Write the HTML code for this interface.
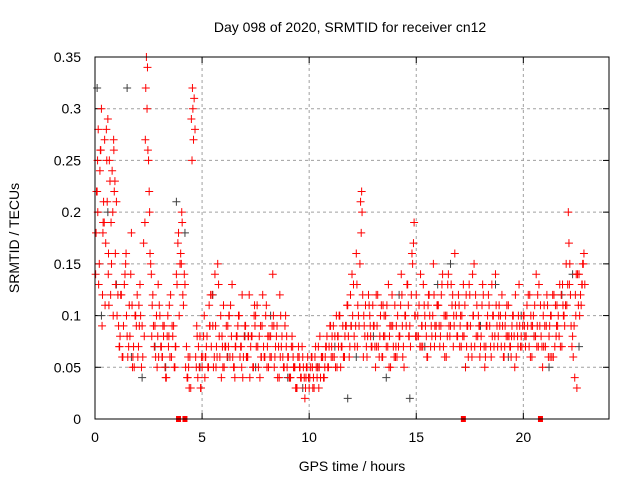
<!DOCTYPE html>
<html><head><meta charset="utf-8">
<style>
body{margin:0;background:#fff;}
svg{display:block;font-family:"Liberation Sans",sans-serif;}
</style></head>
<body>
<svg id="chart" width="640" height="480" viewBox="0 0 640 480" xmlns="http://www.w3.org/2000/svg">
<rect x="0" y="0" width="640" height="480" fill="#fff"/>
<text x="350" y="32" font-size="14" text-anchor="middle">Day 098 of 2020, SRMTID for receiver cn12</text>
<text transform="translate(19,238) rotate(-90)" font-size="14" text-anchor="middle">SRMTID / TECUs</text>
<text x="352" y="471" font-size="14" text-anchor="middle">GPS time / hours</text>
<g id="grid"></g><g id="ticks"></g><g id="gray"></g><g id="red"></g>
<rect x="95" y="57" width="514" height="362" fill="none" stroke="#000" stroke-width="1"/>
</svg>
<script>
const xTicks=[0,5,10,15,20];
const yTicks=[0,0.05,0.1,0.15,0.2,0.25,0.3,0.35];
const yTickLabels=["0","0.05","0.1","0.15","0.2","0.25","0.3","0.35"];
const redT=[0.05,0.1,0.15,0.2,0.25,0.3,0.35,0.4,0.45,0.5,0.55,0.6,0.65,0.7,0.75,0.8,0.85,0.9,0.95,1.0,
1.1,1.2,1.3,1.4,1.5,1.6,1.7,1.8,1.9,2.0,2.1,2.2,2.3,2.35,2.4,2.45,2.5,2.55,2.6,2.7,
2.8,2.9,3.0,3.1,3.2,3.3,3.4,3.5,3.6,3.7,3.8,3.9,4.0,4.1,4.2,4.3,4.4,4.5,4.55,4.6,
4.7,4.8,4.9,5.0,5.1,5.2,5.3,5.4,5.5,5.6,5.7,5.8,5.9,6.0,6.1,6.2,6.3,6.4,6.5,6.6,
6.7,6.8,6.9,7.0,7.1,7.2,7.3,7.4,7.5,7.6,7.7,7.8,7.9,8.0,8.1,8.2,8.3,8.4,8.5,8.6,
8.7,8.8,8.9,9.0,9.1,9.2,9.3,9.4,9.5,9.6,9.7,9.8,9.9,10.0,10.1,10.2,10.3,10.4,10.5,10.6,
10.7,10.8,10.9,11.0,11.1,11.2,11.3,11.4,11.5,11.6,11.7,11.8,11.9,12.0,12.1,12.2,12.3,12.4,12.45,12.5,
12.6,12.7,12.8,12.9,13.0,13.1,13.2,13.3,13.4,13.5,13.6,13.7,13.8,13.9,14.0,14.1,14.2,14.3,14.4,14.5,
14.6,14.7,14.8,14.9,15.0,15.1,15.2,15.3,15.4,15.5,15.6,15.7,15.8,15.9,16.0,16.1,16.2,16.3,16.4,16.5,
16.6,16.7,16.8,16.9,17.0,17.1,17.2,17.3,17.4,17.5,17.6,17.7,17.8,17.9,18.0,18.1,18.2,18.3,18.4,18.5,
18.6,18.7,18.8,18.9,19.0,19.1,19.2,19.3,19.4,19.5,19.6,19.7,19.8,19.9,20.0,20.1,20.2,20.3,20.4,20.5,
20.6,20.7,20.8,20.9,21.0,21.1,21.2,21.3,21.4,21.5,21.6,21.7,21.8,21.9,22.0,22.1,22.2,22.3,22.4,22.5,
22.6,22.7,22.8,
0.12,0.38,0.62,0.88,1.15,1.45,1.75,2.05,2.65,2.95,3.15,3.45,3.75,4.05,4.35,4.75,4.95,5.15,5.35,5.65,
5.95,6.25,6.55,6.85,7.15,7.45,7.75,8.05,8.35,8.65,8.95,9.25,9.55,9.85,10.15,10.45,10.75,11.05,11.35,11.65,
11.95,12.25,12.55,12.85,13.15,13.45,13.75,14.05,14.35,14.65,14.95,15.25,15.55,15.85,16.15,16.45,16.75,17.05,17.35,17.65,
17.95,18.25,18.55,18.85,19.15,19.45,19.75,20.05,20.35,20.65,20.95,21.25,21.55,21.85,22.15,22.45,22.75];
const redV=[0.18,0.22,0.28,0.15,0.26,0.30,0.12,0.21,0.27,0.17,0.25,0.29,0.11,0.23,0.19,0.24,0.10,0.22,0.16,0.21,
0.09,0.12,0.06,0.14,0.08,0.11,0.18,0.07,0.10,0.06,0.13,0.09,0.08,0.27,0.35,0.34,0.25,0.20,0.15,0.12,
0.09,0.05,0.11,0.07,0.08,0.04,0.10,0.06,0.09,0.05,0.14,0.18,0.16,0.12,0.13,0.04,0.03,0.29,0.32,0.27,
0.06,0.04,0.08,0.05,0.10,0.07,0.05,0.12,0.09,0.14,0.06,0.08,0.04,0.11,0.07,0.09,0.06,0.13,0.05,0.08,
0.10,0.07,0.04,0.09,0.06,0.12,0.08,0.05,0.10,0.07,0.04,0.09,0.06,0.11,0.05,0.08,0.14,0.06,0.09,0.04,
0.07,0.05,0.10,0.06,0.04,0.08,0.05,0.03,0.07,0.04,0.06,0.02,0.05,0.03,0.06,0.04,0.07,0.05,0.08,0.06,
0.04,0.07,0.05,0.09,0.06,0.08,0.05,0.10,0.07,0.06,0.09,0.11,0.07,0.14,0.08,0.16,0.10,0.21,0.22,0.12,
0.08,0.06,0.11,0.07,0.09,0.05,0.12,0.08,0.06,0.10,0.07,0.13,0.05,0.09,0.11,0.06,0.08,0.14,0.07,0.10,
0.13,0.09,0.16,0.19,0.12,0.08,0.14,0.07,0.10,0.06,0.12,0.09,0.15,0.08,0.11,0.07,0.13,0.10,0.06,0.14,
0.09,0.12,0.16,0.08,0.11,0.07,0.13,0.05,0.09,0.12,0.06,0.15,0.08,0.10,0.07,0.13,0.05,0.09,0.11,0.06,
0.10,0.14,0.07,0.09,0.12,0.06,0.08,0.11,0.07,0.10,0.05,0.09,0.13,0.08,0.10,0.07,0.09,0.12,0.06,0.08,
0.14,0.07,0.11,0.05,0.09,0.12,0.08,0.10,0.06,0.11,0.09,0.13,0.07,0.10,0.15,0.20,0.12,0.08,0.04,0.03,
0.14,0.11,0.15,
0.25,0.19,0.14,0.26,0.07,0.16,0.05,0.11,0.08,0.13,0.06,0.08,0.07,0.20,0.06,0.09,0.03,0.06,0.09,0.05,
0.07,0.10,0.07,0.05,0.08,0.11,0.06,0.07,0.09,0.06,0.08,0.06,0.05,0.04,0.05,0.03,0.06,0.07,0.08,0.06,
0.09,0.07,0.10,0.09,0.07,0.11,0.08,0.07,0.09,0.08,0.10,0.09,0.11,0.07,0.09,0.08,0.10,0.09,0.07,0.10,
0.09,0.07,0.08,0.10,0.09,0.08,0.07,0.09,0.10,0.09,0.07,0.06,0.09,0.11,0.13,0.10,0.13];
const redT3=[0.03,0.13,0.23,0.33,0.43,0.53,0.63,0.73,0.83,0.93,1.03,1.13,1.23,1.33,1.43,1.53,1.63,1.73,1.83,1.93,
2.03,2.13,2.23,2.33,2.43,2.53,2.63,2.73,2.83,2.93,3.03,3.13,3.23,3.33,3.43,3.53,3.63,3.73,3.83,3.93,
4.03,4.13,4.23,4.33,4.43,4.53,4.63,4.73,4.83,4.93,5.03,5.13,5.23,5.33,5.43,5.53,5.63,5.73,5.83,5.93,
6.03,6.13,6.23,6.33,6.43,6.53,6.63,6.73,6.83,6.93,7.03,7.13,7.23,7.33,7.43,7.53,7.63,7.73,7.83,7.93,
8.03,8.13,8.23,8.33,8.43,8.53,8.63,8.73,8.83,8.93,9.03,9.13,9.23,9.33,9.43,9.53,9.63,9.73,9.83,9.93,
10.03,10.13,10.23,10.33,10.43,10.53,10.63,10.73,10.83,10.93,11.03,11.13,11.23,11.33,11.43,11.53,11.63,11.73,11.83,11.93,
12.03,12.13,12.23,12.33,12.43,12.53,12.63,12.73,12.83,12.93,13.03,13.13,13.23,13.33,13.43,13.53,13.63,13.73,13.83,13.93,
14.03,14.13,14.23,14.33,14.43,14.53,14.63,14.73,14.83,14.93,15.03,15.13,15.23,15.33,15.43,15.53,15.63,15.73,15.83,15.93,
16.03,16.13,16.23,16.33,16.43,16.53,16.63,16.73,16.83,16.93,17.03,17.13,17.23,17.33,17.43,17.53,17.63,17.73,17.83,17.93,
18.03,18.13,18.23,18.33,18.43,18.53,18.63,18.73,18.83,18.93,19.03,19.13,19.23,19.33,19.43,19.53,19.63,19.73,19.83,19.93,
20.03,20.13,20.23,20.33,20.43,20.53,20.63,20.73,20.83,20.93,21.03,21.13,21.23,21.33,21.43,21.53,21.63,21.73,21.83,21.93,
22.03,22.13,22.23,22.33,22.43,22.53,22.63,22.73,22.83];
const redV3=[0.14,0.20,0.24,0.09,0.19,0.28,0.16,0.12,0.20,0.23,
0.10,0.07,0.12,0.09,0.15,0.06,0.08,0.11,0.05,0.09,
0.07,0.10,0.06,0.19,0.30,0.22,0.14,0.09,0.06,0.08,
0.10,0.06,0.09,0.04,0.07,0.12,0.08,0.05,0.13,0.10,
0.15,0.11,0.05,0.04,0.06,0.25,0.31,0.05,0.07,0.03,
0.06,0.04,0.08,0.11,0.07,0.05,0.09,0.15,0.06,0.08,
0.05,0.09,0.07,0.11,0.06,0.04,0.08,0.10,0.07,0.06,
0.09,0.06,0.04,0.08,0.10,0.07,0.05,0.09,0.12,0.06,
0.05,0.08,0.06,0.10,0.07,0.04,0.12,0.08,0.05,0.07,
0.06,0.04,0.07,0.05,0.03,0.06,0.04,0.05,0.03,0.06,
0.04,0.06,0.03,0.05,0.07,0.04,0.06,0.05,0.08,0.07,
0.06,0.09,0.05,0.08,0.10,0.07,0.06,0.09,0.08,0.12,
0.10,0.07,0.13,0.09,0.18,0.06,0.11,0.08,0.10,0.07,
0.09,0.12,0.07,0.10,0.06,0.08,0.11,0.05,0.09,0.07,
0.06,0.10,0.08,0.12,0.05,0.09,0.11,0.07,0.15,0.10,
0.08,0.11,0.07,0.13,0.09,0.06,0.10,0.08,0.12,0.09,
0.11,0.08,0.14,0.06,0.10,0.09,0.13,0.07,0.11,0.08,
0.07,0.10,0.08,0.12,0.06,0.09,0.14,0.07,0.11,0.09,
0.08,0.12,0.06,0.10,0.09,0.13,0.07,0.11,0.08,0.10,
0.09,0.07,0.11,0.08,0.06,0.10,0.12,0.08,0.09,0.07,
0.10,0.08,0.12,0.06,0.09,0.11,0.07,0.13,0.08,0.10,
0.07,0.11,0.09,0.06,0.12,0.08,0.10,0.07,0.13,0.09,
0.11,0.17,0.09,0.06,0.12,0.14,0.10,0.13,0.16];
const redT4=[0.07,0.17,0.27,0.37,0.47,0.57,0.67,0.77,0.87,0.97,1.07,1.17,1.27,1.37,1.47,1.57,1.67,1.77,1.87,1.97,
2.07,2.17,2.27,2.37,2.47,2.57,2.67,2.77,2.87,2.97,3.07,3.17,3.27,3.37,3.47,3.57,3.67,3.77,3.87,3.97,
4.07,4.17,4.27,4.37,4.47,4.57,4.67,4.77,4.87,4.97,5.07,5.17,5.27,5.37,5.47,5.57,5.67,5.77,5.87,5.97,
6.07,6.17,6.27,6.37,6.47,6.57,6.67,6.77,6.87,6.97,7.07,7.17,7.27,7.37,7.47,7.57,7.67,7.77,7.87,7.97,
8.07,8.17,8.27,8.37,8.47,8.57,8.67,8.77,8.87,8.97,9.07,9.17,9.27,9.37,9.47,9.57,9.67,9.77,9.87,9.97,
10.07,10.17,10.27,10.37,10.47,10.57,10.67,10.77,10.87,10.97,11.07,11.17,11.27,11.37,11.47,11.57,11.67,11.77,11.87,11.97,
12.07,12.17,12.27,12.37,12.47,12.57,12.67,12.77,12.87,12.97,13.07,13.17,13.27,13.37,13.47,13.57,13.67,13.77,13.87,13.97,
14.07,14.17,14.27,14.37,14.47,14.57,14.67,14.77,14.87,14.97,15.07,15.17,15.27,15.37,15.47,15.57,15.67,15.77,15.87,15.97,
16.07,16.17,16.27,16.37,16.47,16.57,16.67,16.77,16.87,16.97,17.07,17.17,17.27,17.37,17.47,17.57,17.67,17.77,17.87,17.97,
18.07,18.17,18.27,18.37,18.47,18.57,18.67,18.77,18.87,18.97,19.07,19.17,19.27,19.37,19.47,19.57,19.67,19.77,19.87,19.97,
20.07,20.17,20.27,20.37,20.47,20.57,20.67,20.77,20.87,20.97,21.07,21.17,21.27,21.37,21.47,21.57,21.67,21.77,21.87,21.97,
22.07,22.17,22.27,22.37,22.47,22.57,22.67,22.77,22.87];
const redV4=[0.22,0.13,0.26,0.18,0.11,0.21,0.25,0.15,0.27,0.13,
0.12,0.08,0.06,0.13,0.10,0.07,0.14,0.06,0.10,0.12,
0.09,0.05,0.17,0.32,0.26,0.16,0.11,0.07,0.10,0.06,
0.07,0.09,0.05,0.08,0.11,0.06,0.09,0.07,0.17,0.15,
0.19,0.14,0.07,0.05,0.03,0.30,0.28,0.08,0.05,0.06,
0.08,0.06,0.05,0.09,0.12,0.06,0.07,0.13,0.10,0.05,
0.07,0.06,0.10,0.08,0.05,0.07,0.09,0.06,0.12,0.08,
0.06,0.08,0.07,0.05,0.09,0.11,0.08,0.06,0.07,0.10,
0.08,0.06,0.09,0.05,0.08,0.07,0.10,0.06,0.09,0.05,
0.04,0.07,0.05,0.03,0.06,0.05,0.07,0.04,0.05,0.04,
0.05,0.03,0.06,0.04,0.05,0.06,0.04,0.07,0.05,0.09,
0.08,0.06,0.10,0.07,0.05,0.09,0.08,0.11,0.06,0.09,
0.13,0.09,0.11,0.15,0.20,0.09,0.07,0.12,0.08,0.11,
0.07,0.09,0.06,0.11,0.08,0.10,0.07,0.09,0.12,0.06,
0.09,0.07,0.11,0.06,0.10,0.13,0.08,0.12,0.17,0.08,
0.10,0.07,0.09,0.11,0.08,0.12,0.07,0.10,0.09,0.11,
0.09,0.12,0.07,0.10,0.13,0.08,0.11,0.09,0.10,0.12,
0.10,0.08,0.11,0.09,0.13,0.07,0.10,0.12,0.08,0.06,
0.11,0.07,0.09,0.12,0.07,0.10,0.08,0.09,0.11,0.07,
0.06,0.10,0.08,0.07,0.09,0.08,0.06,0.10,0.07,0.09,
0.08,0.11,0.07,0.09,0.10,0.08,0.12,0.09,0.07,0.11,
0.09,0.06,0.10,0.12,0.07,0.11,0.08,0.12,0.10,0.11,
0.13,0.15,0.07,0.09,0.14,0.11,0.12,0.15,0.13];
const grayT=[0.1,0.3,0.6,1.0,1.5,1.7,2.2,2.8,3.3,3.8,4.2,4.9,5.5,6.2,7.0,7.5,8.2,9.0,9.7,10.4,11.2,11.8,12.2,13.0,13.6,14.2,14.7,15.4,16.0,16.6,17.3,18.0,18.7,19.3,19.9,20.5,21.2,21.8,22.3,22.6];
const grayV=[0.32,0.10,0.20,0.13,0.32,0.06,0.04,0.07,0.05,0.21,0.18,0.05,0.12,0.06,0.08,0.05,0.10,0.04,0.03,0.05,0.07,0.02,0.06,0.08,0.04,0.12,0.02,0.07,0.13,0.15,0.05,0.09,0.13,0.06,0.10,0.08,0.05,0.12,0.14,0.07];
const zeroT=[3.9,4.2,17.2,20.8];

const X0=95,X1=609,Y0=419,Y1=57,XMAX=24,YMAX=0.35;
const sx=t=>X0+(X1-X0)*t/XMAX;
const sy=v=>Y0-(Y0-Y1)*v/YMAX;
const NS="http://www.w3.org/2000/svg";
function mk(tag,attrs,parent){const e=document.createElementNS(NS,tag);for(const k in attrs)e.setAttribute(k,attrs[k]);parent.appendChild(e);return e;}
const grid=document.getElementById('grid'),ticks=document.getElementById('ticks');
xTicks.forEach(t=>{
  const x=sx(t);
  if(t>0){const g=mk('line',{x1:x,y1:Y0,x2:x,y2:Y1,stroke:'#a0a0a0','stroke-dasharray':'3,3'},grid);
  
  }
  mk('line',{x1:x,y1:Y0,x2:x,y2:Y0-6,stroke:'#000'},ticks);
  mk('line',{x1:x,y1:Y1,x2:x,y2:Y1+6,stroke:'#000'},ticks);
  const l=mk('text',{x:x,y:Y0+23,'font-size':14,'text-anchor':'middle'},ticks);
  l.textContent=String(t);
  
  
});
yTicks.forEach((v,i)=>{
  const y=sy(v);
  if(v>0&&v<YMAX){const g=mk('line',{x1:X0,y1:y,x2:X1,y2:y,stroke:'#a0a0a0','stroke-dasharray':'3,3'},grid);
  
  }
  mk('line',{x1:X0,y1:y,x2:X0+6,y2:y,stroke:'#000'},ticks);
  mk('line',{x1:X1,y1:y,x2:X1-6,y2:y,stroke:'#000'},ticks);
  const l=mk('text',{x:X0-14,y:y+5,'font-size':14,'text-anchor':'end'},ticks);
  l.textContent=yTickLabels[i];
  
  
});
function plus(g,t,v,color,name){
  const x=sx(t),y=sy(v);
  const p=mk('path',{d:`M${x-4} ${y}H${x+4}M${x} ${y-4}V${y+4}`,stroke:color,'stroke-width':1,fill:'none'},g);
  
  
}
const gG=document.getElementById('gray'),gR=document.getElementById('red');
grayT.forEach((t,i)=>plus(gG,t,grayV[i],'#404040','gray-point'));
redT.forEach((t,i)=>plus(gR,t,redV[i],'#ff0000','red-point'));
redT3.forEach((t,i)=>plus(gR,t,redV3[i],'#ff0000','red-point'));
redT4.forEach((t,i)=>plus(gR,t,redV4[i],'#ff0000','red-point'));
zeroT.forEach(t=>{
  const r=mk('rect',{x:sx(t)-2.5,y:Y0-3,width:5,height:6,fill:'#ff0000'},gR);
  
  
});
</script>
</body></html>
